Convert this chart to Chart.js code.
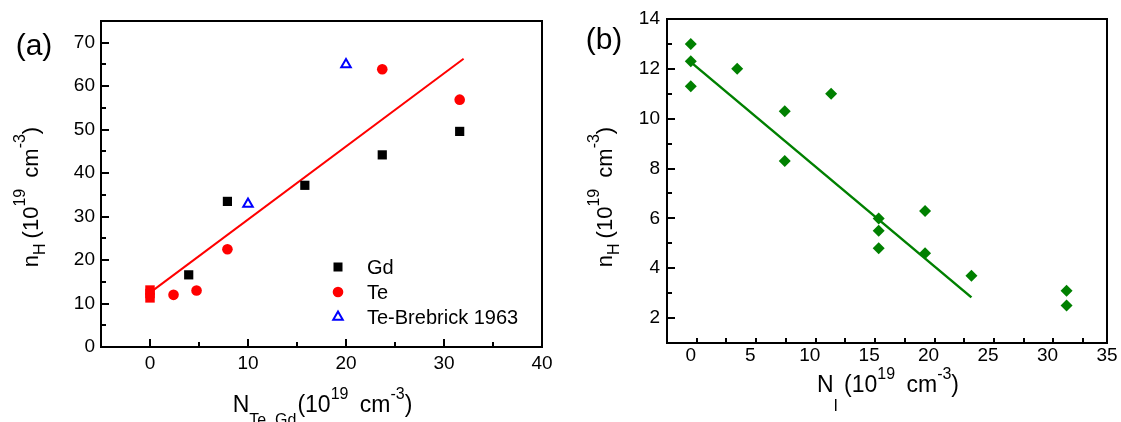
<!DOCTYPE html>
<html>
<head>
<meta charset="utf-8">
<script src="https://cdn.jsdelivr.net/npm/chart.js@4/dist/chart.umd.min.js"></script>
<style>
  html, body { margin: 0; padding: 0; background: #fff; }
  #wrap { position: relative; width: 1121px; height: 422px; overflow: hidden; }
  canvas { position: absolute; top: 0; }
</style>
</head>
<body>
<div id="wrap">
  <canvas id="chartA" width="560" height="422" style="left:0"></canvas>
  <canvas id="chartB" width="561" height="422" style="left:560px"></canvas>
</div>
<script>
// panel (a): n_H vs N(Te, Gd)
const gdX = [3.95, 7.9, 15.8, 23.7, 31.6];
const gdY = [16.6, 33.5, 37.2, 44.2, 49.6];
const teX = [0, 0, 0, 2.4, 4.75, 7.9, 23.7, 31.6];
const teY = [11.3, 12.3, 13.1, 12.0, 13.0, 22.5, 63.9, 56.9];
const brebX = [10, 20];
const brebY = [32.9, 65.0];
const fitAX = [0, 32];
const fitAY = [12.5, 66.3];
const xTicksA = [0, 10, 20, 30, 40];
const yTicksA = [0, 10, 20, 30, 40, 50, 60, 70];

// panel (b): n_H vs N(I)
const niX = [0, 0, 0, 3.9, 7.9, 7.9, 11.8, 15.8, 15.8, 15.8, 19.7, 19.7, 23.6, 31.6, 31.6];
const niY = [13.0, 12.3, 11.3, 12.0, 10.3, 8.3, 11.0, 6.0, 5.5, 4.8, 6.3, 4.6, 3.7, 3.1, 2.5];
const fitBX = [0, 23.6];
const fitBY = [12.27, 2.83];
const xTicksB = [0, 5, 10, 15, 20, 25, 30, 35];
const yTicksB = [2, 4, 6, 8, 10, 12, 14];

const FONT = '"Liberation Sans", Arial, Helvetica, sans-serif';
Chart.defaults.font.family = FONT;
Chart.defaults.color = '#000';

const pts = (xs, ys) => xs.map((x, i) => ({ x: x, y: ys[i] }));

// draw text made of pieces: [text, size, dy, extra space after]
function richText(ctx, segs, x, y) {
  let total = 0;
  segs.forEach(s => {
    ctx.font = s[1] + 'px ' + FONT;
    total += ctx.measureText(s[0]).width + (s[3] || 0);
  });
  let cx = x - total / 2;
  ctx.textAlign = 'left';
  ctx.textBaseline = 'alphabetic';
  segs.forEach(s => {
    ctx.font = s[1] + 'px ' + FONT;
    ctx.fillText(s[0], cx, y + s[2]);
    cx += ctx.measureText(s[0]).width + (s[3] || 0);
  });
}

function marker(ctx, style, x, y, color) {
  ctx.fillStyle = color;
  ctx.strokeStyle = color;
  ctx.beginPath();
  if (style === 'rect') {
    ctx.fillRect(x - 4.5, y - 4.5, 9, 9);
  } else if (style === 'circle') {
    ctx.arc(x, y, 5.3, 0, Math.PI * 2);
    ctx.fill();
  } else if (style === 'triangle') {
    const r = 5.5;
    ctx.moveTo(x, y - r);
    ctx.lineTo(x + r * 0.866, y + r / 2);
    ctx.lineTo(x - r * 0.866, y + r / 2);
    ctx.closePath();
    ctx.lineWidth = 2;
    ctx.stroke();
  }
}

// frame, inward ticks, titles, panel letter and legend
function makeDecor(cfg) {
  return {
    id: 'decor',
    afterDraw(chart) {
      const ctx = chart.ctx;
      const a = chart.chartArea;
      const sx = chart.scales.x, sy = chart.scales.y;
      ctx.save();
      ctx.fillStyle = '#000';
      for (let k = 1; cfg.xMin + k * cfg.xStep < cfg.xMax - 1e-6; k++) {
        const v = cfg.xMin + k * cfg.xStep;
        const px = sx.getPixelForValue(v);
        const len = cfg.xMajor.some(t => Math.abs(t - v) < 1e-6) ? 8 : 5;
        ctx.fillRect(Math.round(px) - 1, a.bottom - len, 2, len);
      }
      for (let k = 1; cfg.yMin + k * cfg.yStep < cfg.yMax - 1e-6; k++) {
        const v = cfg.yMin + k * cfg.yStep;
        const py = sy.getPixelForValue(v);
        const len = cfg.yMajor.some(t => Math.abs(t - v) < 1e-6) ? 8 : 5;
        ctx.fillRect(a.left, Math.round(py) - 1, len, 2);
      }
      ctx.strokeStyle = '#000';
      ctx.lineWidth = 2;
      ctx.strokeRect(a.left, a.top, a.right - a.left, a.bottom - a.top);

      ctx.fillStyle = '#000';
      richText(ctx, cfg.xTitle, (a.left + a.right) / 2 + 1, cfg.xTitleY);
      ctx.save();
      ctx.translate(cfg.yTitleX, cfg.yTitleCY);
      ctx.rotate(-Math.PI / 2);
      richText(ctx, cfg.yTitle, 0, 0);
      ctx.restore();

      ctx.font = '30px ' + FONT;
      ctx.textAlign = 'center';
      ctx.textBaseline = 'middle';
      ctx.fillText(cfg.panel[0], cfg.panel[1], cfg.panel[2]);

      if (cfg.legend) {
        cfg.legend.forEach((it, i) => {
          const ly = cfg.legendY + i * 25;
          marker(ctx, it[1], cfg.legendX, ly, it[2]);
          ctx.fillStyle = '#000';
          ctx.font = '20px ' + FONT;
          ctx.textAlign = 'left';
          ctx.textBaseline = 'middle';
          ctx.fillText(it[0], cfg.legendX + 29, ly + 1);
        });
      }
      ctx.restore();
    }
  };
}

function axis(min, max, ticks, fitSize, horizontal, pad) {
  return {
    type: 'linear',
    min: min,
    max: max,
    grid: { display: false, drawTicks: false, tickLength: 0 },
    border: { display: false },
    ticks: { padding: pad, font: { size: 19 }, color: '#000' },
    afterBuildTicks: s => { s.ticks = ticks.map(v => ({ value: v })); },
    afterFit: s => { if (horizontal) s.height = fitSize; else s.width = fitSize; }
  };
}

const yTitle = [['n', 22, 0], ['H', 16, 7, 5], ['(10', 22, 0], ['19', 16, -13, 5],
                [' cm', 22, 0], ['-3', 16, -13], [')', 22, 0]];

new Chart(document.getElementById('chartA').getContext('2d'), {
  type: 'scatter',
  data: {
    datasets: [
      { label: 'Gd', data: pts(gdX, gdY), pointStyle: 'rect', pointRadius: 6.5,
        borderWidth: 0, backgroundColor: '#000000' },
      { label: 'Te', data: pts(teX, teY),
        pointStyle: teX.map(v => v === 0 ? 'rect' : 'circle'),
        pointRadius: teX.map(v => v === 0 ? 6.7 : 5.3),
        borderWidth: 0, backgroundColor: '#ff0000' },
      { label: 'Te-Brebrick 1963', data: pts(brebX, brebY), pointStyle: 'triangle',
        pointRadius: 5.5, borderWidth: 2, borderColor: '#0000ff', backgroundColor: 'rgba(0,0,0,0)' },
      { label: 'fit', data: pts(fitAX, fitAY), showLine: true, pointRadius: 0,
        borderColor: '#ff0000', borderWidth: 2 }
    ]
  },
  options: {
    responsive: false,
    animation: false,
    events: [],
    layout: { padding: { top: 21, right: 18, left: 0, bottom: 0 } },
    scales: {
      x: axis(-5, 40, xTicksA, 75, true, 5),
      y: axis(0, 75, yTicksA, 101, false, 6)
    },
    plugins: { legend: { display: false }, tooltip: { enabled: false } }
  },
  plugins: [makeDecor({
    xMin: -5, xMax: 40, xStep: 5, yMin: 0, yMax: 75, yStep: 5,
    xMajor: xTicksA, yMajor: yTicksA,
    xTitle: [['N', 23, 0], ['Te, Gd', 16, 13, 1], ['(10', 23, 0], ['19', 16, -13, 5],
             [' cm', 23, 0], ['-3', 16, -13], [')', 23, 0]],
    xTitleY: 412,
    yTitle: yTitle, yTitleX: 38, yTitleCY: 197,
    panel: ['(a)', 34, 47],
    legend: [['Gd', 'rect', '#000000'], ['Te', 'circle', '#ff0000'],
             ['Te-Brebrick 1963', 'triangle', '#0000ff']],
    legendX: 338, legendY: 267
  })]
});

new Chart(document.getElementById('chartB').getContext('2d'), {
  type: 'scatter',
  data: {
    datasets: [
      { label: 'N_I', data: pts(niX, niY), pointStyle: 'rectRot', pointRadius: 6,
        borderWidth: 0, backgroundColor: '#008000' },
      { label: 'fit', data: pts(fitBX, fitBY), showLine: true, pointRadius: 0,
        borderColor: '#008000', borderWidth: 2.5 }
    ]
  },
  options: {
    responsive: false,
    animation: false,
    events: [],
    layout: { padding: { top: 19, right: 14, left: 0, bottom: 0 } },
    scales: {
      x: axis(-2, 35, xTicksB, 79, true, 1),
      y: axis(1, 14, yTicksB, 107, false, 7)
    },
    plugins: { legend: { display: false }, tooltip: { enabled: false } }
  },
  plugins: [makeDecor({
    xMin: -2, xMax: 35, xStep: 2.5, yMin: 1, yMax: 14, yStep: 1,
    xMajor: xTicksB, yMajor: yTicksB,
    xTitle: [['N', 23, 0], ['I', 16, 19, 6], ['(10', 23, 0], ['19', 16, -13, 5],
             [' cm', 23, 0], ['-3', 16, -13], [')', 23, 0]],
    xTitleY: 392,
    yTitle: yTitle, yTitleX: 52, yTitleCY: 197,
    panel: ['(b)', 44, 41]
  })]
});
</script>
</body>
</html>
